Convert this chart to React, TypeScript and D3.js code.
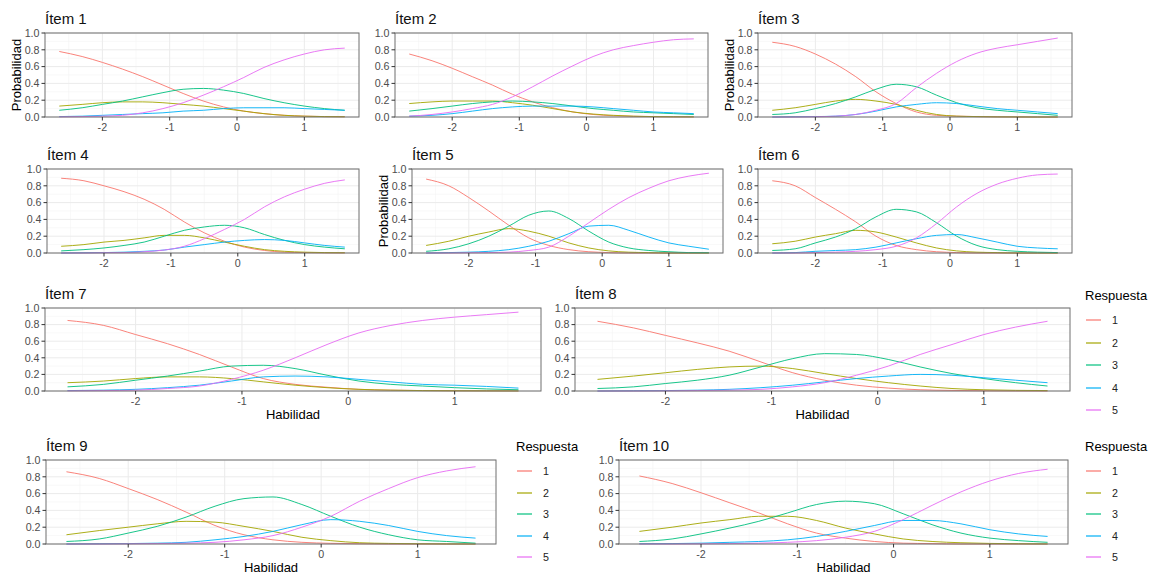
import * as d3 from 'd3';
import React from 'react';

// habilidad (theta) grid the curves were read at
const theta = [-2.64, -2.3, -2.0, -1.7, -1.4, -1.1, -0.8, -0.5, -0.2, 0.1, 0.4, 0.7, 1.0, 1.3, 1.6];

const responses = ['1', '2', '3', '4', '5'];
const colors = ['#F8766D', '#A3A500', '#00BF7D', '#00B0F6', '#E76BF3'];
const titles = ['Ítem 1', 'Ítem 2', 'Ítem 3', 'Ítem 4', 'Ítem 5', 'Ítem 6', 'Ítem 7', 'Ítem 8', 'Ítem 9', 'Ítem 10'];
const xTicks = [-2, -1, 0, 1];
const yTicks = [0, 0.2, 0.4, 0.6, 0.8, 1.0];

// one row per response category (1..5)
const item1 = [
  [0.78, 0.72, 0.65, 0.57, 0.48, 0.38, 0.28, 0.19, 0.12, 0.07, 0.04, 0.02, 0.01, 0.005, 0.003],
  [0.13, 0.15, 0.17, 0.18, 0.18, 0.17, 0.15, 0.13, 0.10, 0.07, 0.04, 0.02, 0.01, 0.005, 0.003],
  [0.08, 0.11, 0.15, 0.19, 0.24, 0.29, 0.33, 0.34, 0.32, 0.28, 0.22, 0.17, 0.13, 0.10, 0.08],
  [0.005, 0.01, 0.02, 0.03, 0.04, 0.05, 0.07, 0.08, 0.10, 0.11, 0.11, 0.11, 0.10, 0.09, 0.08],
  [0.002, 0.005, 0.01, 0.02, 0.05, 0.10, 0.17, 0.26, 0.36, 0.47, 0.59, 0.68, 0.75, 0.80, 0.82],
];
const item2 = [
  [0.75, 0.67, 0.58, 0.48, 0.38, 0.27, 0.18, 0.11, 0.06, 0.03, 0.015, 0.008, 0.004, 0.002, 0.001],
  [0.16, 0.18, 0.19, 0.19, 0.19, 0.17, 0.14, 0.10, 0.06, 0.035, 0.02, 0.01, 0.005, 0.003, 0.002],
  [0.07, 0.10, 0.13, 0.16, 0.18, 0.19, 0.18, 0.16, 0.13, 0.10, 0.08, 0.06, 0.05, 0.04, 0.03],
  [0.01, 0.02, 0.04, 0.07, 0.10, 0.12, 0.13, 0.13, 0.13, 0.12, 0.10, 0.08, 0.06, 0.05, 0.04],
  [0.01, 0.03, 0.06, 0.10, 0.15, 0.24, 0.36, 0.49, 0.61, 0.72, 0.80, 0.85, 0.89, 0.92, 0.93],
];
const item3 = [
  [0.89, 0.84, 0.75, 0.63, 0.48, 0.30, 0.16, 0.06, 0.02, 0.01, 0.005, 0.002, 0.001, 0.0, 0.0],
  [0.08, 0.11, 0.15, 0.19, 0.21, 0.19, 0.15, 0.08, 0.03, 0.01, 0.005, 0.002, 0.001, 0.0, 0.0],
  [0.03, 0.05, 0.10, 0.16, 0.24, 0.33, 0.39, 0.36, 0.26, 0.17, 0.11, 0.08, 0.06, 0.04, 0.02],
  [0.0, 0.003, 0.005, 0.01, 0.03, 0.07, 0.12, 0.15, 0.17, 0.16, 0.13, 0.10, 0.08, 0.06, 0.04],
  [0.0, 0.0, 0.003, 0.01, 0.03, 0.08, 0.16, 0.35, 0.52, 0.66, 0.76, 0.82, 0.86, 0.90, 0.94],
];
const item4 = [
  [0.89, 0.86, 0.80, 0.73, 0.64, 0.52, 0.37, 0.24, 0.14, 0.07, 0.03, 0.01, 0.005, 0.002, 0.001],
  [0.08, 0.10, 0.13, 0.15, 0.18, 0.21, 0.21, 0.18, 0.13, 0.08, 0.04, 0.02, 0.01, 0.005, 0.003],
  [0.025, 0.04, 0.06, 0.09, 0.13, 0.20, 0.27, 0.31, 0.33, 0.30, 0.22, 0.15, 0.10, 0.07, 0.05],
  [0.0, 0.003, 0.005, 0.01, 0.02, 0.035, 0.07, 0.10, 0.13, 0.15, 0.16, 0.15, 0.12, 0.09, 0.07],
  [0.0, 0.0, 0.003, 0.005, 0.015, 0.035, 0.08, 0.17, 0.28, 0.40, 0.55, 0.67, 0.76, 0.83, 0.87],
];
const item5 = [
  [0.88, 0.80, 0.66, 0.50, 0.33, 0.18, 0.09, 0.04, 0.015, 0.005, 0.0, 0.0, 0.0, 0.0, 0.0],
  [0.09, 0.14, 0.20, 0.25, 0.29, 0.26, 0.20, 0.12, 0.06, 0.025, 0.01, 0.005, 0.0, 0.0, 0.0],
  [0.02, 0.05, 0.11, 0.20, 0.32, 0.45, 0.50, 0.41, 0.26, 0.13, 0.06, 0.03, 0.015, 0.005, 0.003],
  [0.0, 0.005, 0.01, 0.02, 0.04, 0.08, 0.14, 0.23, 0.32, 0.33, 0.27, 0.19, 0.12, 0.08, 0.045],
  [0.0, 0.0, 0.003, 0.005, 0.01, 0.03, 0.07, 0.20, 0.36, 0.52, 0.66, 0.77, 0.86, 0.915, 0.95],
];
const item6 = [
  [0.86, 0.80, 0.66, 0.52, 0.37, 0.20, 0.09, 0.04, 0.015, 0.005, 0.0, 0.0, 0.0, 0.0, 0.0],
  [0.11, 0.14, 0.19, 0.23, 0.27, 0.25, 0.19, 0.12, 0.06, 0.025, 0.01, 0.005, 0.0, 0.0, 0.0],
  [0.03, 0.05, 0.12, 0.19, 0.29, 0.43, 0.52, 0.49, 0.36, 0.20, 0.09, 0.04, 0.02, 0.01, 0.005],
  [0.0, 0.005, 0.02, 0.03, 0.04, 0.07, 0.12, 0.17, 0.21, 0.22, 0.18, 0.13, 0.08, 0.06, 0.05],
  [0.0, 0.0, 0.005, 0.01, 0.02, 0.04, 0.08, 0.18, 0.35, 0.55, 0.71, 0.82, 0.89, 0.93, 0.94],
];
const item7 = [
  [0.85, 0.79, 0.68, 0.57, 0.44, 0.29, 0.15, 0.08, 0.045, 0.02, 0.01, 0.005, 0.003, 0.002, 0.001],
  [0.10, 0.12, 0.15, 0.17, 0.17, 0.15, 0.11, 0.07, 0.04, 0.02, 0.01, 0.005, 0.003, 0.002, 0.001],
  [0.05, 0.08, 0.13, 0.18, 0.24, 0.30, 0.31, 0.27, 0.19, 0.12, 0.08, 0.06, 0.04, 0.025, 0.015],
  [0.005, 0.01, 0.02, 0.04, 0.07, 0.12, 0.17, 0.18, 0.17, 0.14, 0.11, 0.08, 0.07, 0.055, 0.035],
  [0.002, 0.005, 0.01, 0.03, 0.06, 0.14, 0.25, 0.40, 0.56, 0.70, 0.79, 0.85, 0.89, 0.92, 0.95],
];
const item8 = [
  [0.84, 0.76, 0.67, 0.58, 0.48, 0.35, 0.22, 0.13, 0.07, 0.035, 0.015, 0.007, 0.003, 0.001, 0.0],
  [0.14, 0.18, 0.22, 0.26, 0.29, 0.30, 0.27, 0.21, 0.15, 0.10, 0.06, 0.03, 0.015, 0.008, 0.005],
  [0.03, 0.05, 0.09, 0.13, 0.19, 0.29, 0.39, 0.45, 0.44, 0.38, 0.29, 0.21, 0.15, 0.10, 0.06],
  [0.0, 0.003, 0.005, 0.01, 0.02, 0.04, 0.07, 0.11, 0.15, 0.18, 0.20, 0.19, 0.16, 0.13, 0.10],
  [0.0, 0.0, 0.002, 0.005, 0.01, 0.02, 0.05, 0.10, 0.19, 0.30, 0.44, 0.56, 0.68, 0.77, 0.84],
];
const item9 = [
  [0.86, 0.78, 0.66, 0.53, 0.38, 0.22, 0.11, 0.05, 0.02, 0.008, 0.003, 0.0, 0.0, 0.0, 0.0],
  [0.11, 0.16, 0.20, 0.24, 0.27, 0.26, 0.21, 0.15, 0.08, 0.04, 0.015, 0.007, 0.003, 0.001, 0.0],
  [0.03, 0.06, 0.13, 0.21, 0.32, 0.45, 0.54, 0.56, 0.47, 0.33, 0.20, 0.11, 0.05, 0.03, 0.01],
  [0.0, 0.003, 0.005, 0.01, 0.02, 0.05, 0.09, 0.15, 0.23, 0.29, 0.27, 0.22, 0.15, 0.10, 0.07],
  [0.0, 0.0, 0.002, 0.005, 0.01, 0.02, 0.05, 0.10, 0.20, 0.33, 0.51, 0.66, 0.79, 0.87, 0.92],
];
const item10 = [
  [0.81, 0.72, 0.61, 0.49, 0.37, 0.24, 0.13, 0.07, 0.03, 0.01, 0.005, 0.0, 0.0, 0.0, 0.0],
  [0.15, 0.20, 0.25, 0.29, 0.33, 0.33, 0.28, 0.19, 0.12, 0.06, 0.03, 0.015, 0.007, 0.003, 0.001],
  [0.03, 0.06, 0.12, 0.19, 0.27, 0.37, 0.47, 0.51, 0.48, 0.36, 0.23, 0.13, 0.07, 0.04, 0.02],
  [0.003, 0.005, 0.01, 0.02, 0.03, 0.05, 0.09, 0.15, 0.22, 0.28, 0.28, 0.24, 0.17, 0.12, 0.09],
  [0.0, 0.0, 0.002, 0.005, 0.01, 0.02, 0.04, 0.08, 0.15, 0.29, 0.46, 0.62, 0.75, 0.84, 0.89],
];

const items = [item1, item2, item3, item4, item5, item6, item7, item8, item9, item10];

// panel boxes (patchwork-like layout)
const panels = [
  { x: 45, y: 33, w: 314, h: 84, ylab: true, xlab: false },
  { x: 395, y: 33, w: 313, h: 84, ylab: false, xlab: false },
  { x: 758, y: 33, w: 314, h: 84, ylab: true, xlab: false },
  { x: 47, y: 169, w: 312, h: 84, ylab: false, xlab: false },
  { x: 412, y: 169, w: 311, h: 84, ylab: true, xlab: false },
  { x: 758, y: 169, w: 314, h: 84, ylab: false, xlab: false },
  { x: 45, y: 308, w: 496, h: 83, ylab: false, xlab: true },
  { x: 575, y: 308, w: 495, h: 83, ylab: false, xlab: true },
  { x: 46, y: 460, w: 450, h: 84, ylab: false, xlab: true },
  { x: 619, y: 460, w: 449, h: 84, ylab: false, xlab: true },
];
const legends = [
  { x: 1085, y: 300, gap: 22.5 },
  { x: 516, y: 451, gap: 21.5 },
  { x: 1085, y: 451, gap: 21.5 },
];

const font = '"Liberation Sans", Arial, sans-serif';
const pad = (theta[theta.length - 1] - theta[0]) * 0.05;

function Panel({ idx }: { idx: number }) {
  const p = panels[idx];
  const data = items[idx];
  const x = d3.scaleLinear().domain([theta[0] - pad, theta[theta.length - 1] + pad]).range([0, p.w]);
  const y = d3.scaleLinear().domain([0, 1]).range([p.h, 0]);
  const line = d3.line<number>()
    .x((_, i) => x(theta[i]))
    .y(d => y(d))
    .curve(d3.curveMonotoneX);
  const xMinor = [-2.5, -1.5, -0.5, 0.5, 1.5];
  const yMinor = [0.1, 0.3, 0.5, 0.7, 0.9];
  return (
    <g transform={`translate(${p.x},${p.y})`}>
      <text x={0} y={-9} fontSize={15} fill="#111">{titles[idx]}</text>
      <rect width={p.w} height={p.h} fill="#fff" />
      {xMinor.map(t => <line key={'xm' + t} x1={x(t)} x2={x(t)} y1={0} y2={p.h} stroke="#F3F3F3" strokeWidth={0.6} />)}
      {yMinor.map(t => <line key={'ym' + t} x1={0} x2={p.w} y1={y(t)} y2={y(t)} stroke="#F3F3F3" strokeWidth={0.6} />)}
      {xTicks.map(t => <line key={'xg' + t} x1={x(t)} x2={x(t)} y1={0} y2={p.h} stroke="#EBEBEB" strokeWidth={1} />)}
      {yTicks.map(t => <line key={'yg' + t} x1={0} x2={p.w} y1={y(t)} y2={y(t)} stroke="#EBEBEB" strokeWidth={1} />)}
      {data.map((s, k) => (
        <path key={k} d={line(s) || ''} fill="none" stroke={colors[k]} strokeWidth={1} strokeOpacity={0.9} />
      ))}
      <rect width={p.w} height={p.h} fill="none" stroke="#6E6E6E" strokeWidth={1} />
      {xTicks.map(t => (
        <g key={'xt' + t} transform={`translate(${x(t)},${p.h})`}>
          <line y2={3.5} stroke="#333" />
          <text y={14} textAnchor="middle" fontSize={10.7} fill="#4D4D4D">{t}</text>
        </g>
      ))}
      {yTicks.map(t => (
        <g key={'yt' + t} transform={`translate(0,${y(t)})`}>
          <line x2={-3.5} stroke="#333" />
          <text x={-5.5} dy="0.35em" textAnchor="end" fontSize={10.7} fill="#4D4D4D">{d3.format('.1f')(t)}</text>
        </g>
      ))}
      {p.ylab && (
        <text transform={`translate(-24,${p.h / 2}) rotate(-90)`} textAnchor="middle" fontSize={13} fill="#000">Probabilidad</text>
      )}
      {p.xlab && (
        <text x={p.w / 2} y={p.h + 28} textAnchor="middle" fontSize={13} fill="#000">Habilidad</text>
      )}
    </g>
  );
}

function Legend({ x, y, gap }: { x: number; y: number; gap: number }) {
  return (
    <g transform={`translate(${x},${y})`}>
      <text x={0} y={0} fontSize={13} fill="#000">Respuesta</text>
      {responses.map((r, i) => (
        <g key={r} transform={`translate(0,${Math.round(20 + i * gap)})`}>
          <line x1={1} x2={16} stroke={colors[i]} strokeWidth={1.2} />
          <text x={27} dy="0.35em" fontSize={10.7} fill="#222">{r}</text>
        </g>
      ))}
    </g>
  );
}

export default function App() {
  return (
    <svg width={1159} height={578} style={{ position: 'absolute', left: 0, top: 0, background: '#fff' }} fontFamily={font}>
      {panels.map((_, i) => <Panel key={i} idx={i} />)}
      {legends.map((l, i) => <Legend key={i} {...l} />)}
    </svg>
  );
}
